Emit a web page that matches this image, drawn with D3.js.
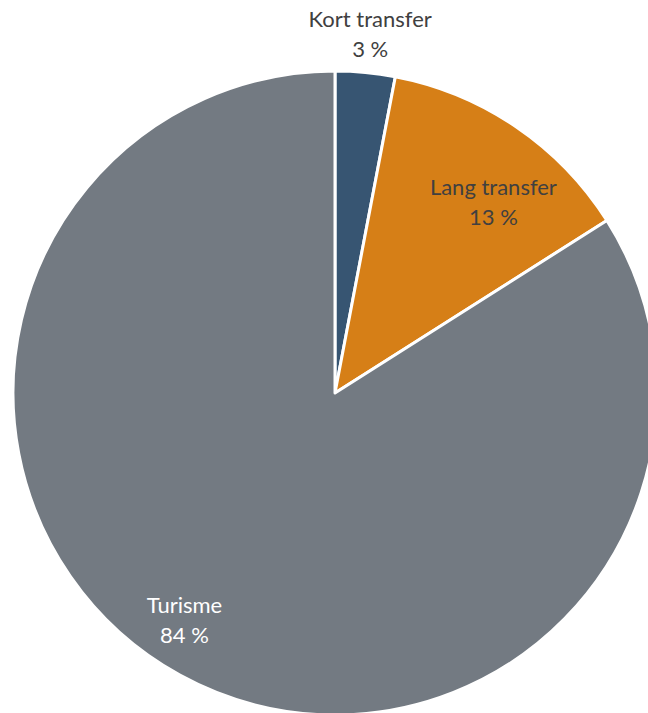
<!DOCTYPE html>
<html>
<head>
<meta charset="utf-8">
<script src="https://cdn.jsdelivr.net/npm/d3@7"></script>
<style>
  html, body { margin: 0; padding: 0; background: #ffffff; }
  svg { display: block; }
</style>
</head>
<body>
<svg id="chart" width="648" height="713"></svg>
<script>
// Fordeling av reiser etter formål
const categories = ["Kort transfer", "Lang transfer", "Turisme"];
const shares = [3, 13, 84];
const valueLabels = ["3 %", "13 %", "84 %"];

const colors = ["#375572", "#d67f17", "#737a82"];
const labelColors = ["#404040", "#404040", "#ffffff"];
// label placement: angle shift (deg) from slice middle, and radius as fraction of pie radius
const labelAngleShift = [0.2, 5.5, 4.8];
const labelRadiusFactor = [1.12, 0.77, 0.845];

const width = 648, height = 713;
const cx = 335, cy = 393, radius = 322;

const svg = d3.select("#chart");
const g = svg.append("g").attr("transform", `translate(${cx},${cy})`);

const data = categories.map((c, i) => ({ name: c, value: shares[i], label: valueLabels[i], i }));

const pie = d3.pie().value(d => d.value).sort(null);
const arc = d3.arc().innerRadius(0).outerRadius(radius);

const arcs = pie(data);

g.selectAll("path.slice")
  .data(arcs)
  .join("path")
  .attr("class", "slice")
  .attr("d", arc)
  .attr("fill", d => colors[d.data.i])
  .attr("stroke", "#ffffff")
  .attr("stroke-width", 3)
  .attr("stroke-linejoin", "round");

const labels = g.selectAll("g.label")
  .data(arcs)
  .join("g")
  .attr("class", "label")
  .attr("transform", d => {
    const i = d.data.i;
    const a = (d.startAngle + d.endAngle) / 2 + labelAngleShift[i] * Math.PI / 180;
    const r = radius * labelRadiusFactor[i];
    return `translate(${r * Math.sin(a)},${-r * Math.cos(a)})`;
  });

labels.append("text")
  .attr("text-anchor", "middle")
  .attr("font-family", "Lato, 'Open Sans', sans-serif")
  .attr("font-size", 22)
  .attr("fill", d => labelColors[d.data.i])
  .selectAll("tspan")
  .data(d => [d.data.name, d.data.label])
  .join("tspan")
  .attr("x", 0)
  .attr("y", (t, k) => k === 0 ? -7 : 23)
  .text(t => t);
</script>
</body>
</html>
